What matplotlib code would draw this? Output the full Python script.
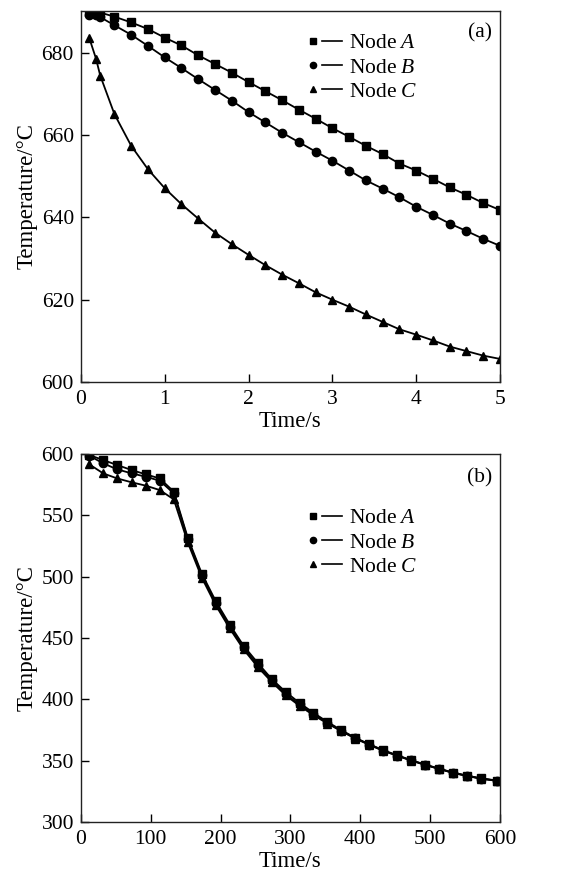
import matplotlib
matplotlib.use("Agg")
import matplotlib.pyplot as plt
from matplotlib.lines import Line2D
from matplotlib.legend_handler import HandlerTuple

plt.rcParams['font.family'] = ['Liberation Serif', 'DejaVu Serif']
plt.rcParams['mathtext.fontset'] = 'custom'
plt.rcParams['mathtext.rm'] = 'Liberation Serif'
plt.rcParams['mathtext.it'] = 'Liberation Serif:italic'

# ---------------- Panel (a) data ----------------
t_a = [0.1, 0.18, 0.23, 0.4, 0.6, 0.8, 1.0, 1.2, 1.4, 1.6, 1.8, 2.0, 2.2, 2.4, 2.6,
       2.8, 3.0, 3.2, 3.4, 3.6, 3.8, 4.0, 4.2, 4.4, 4.6, 4.8, 5.0]
a_nodeA = [689.9, 689.9, 689.8, 688.8, 687.4, 685.8, 683.7, 681.8, 679.4, 677.3, 675.2,
           672.9, 670.7, 668.5, 666.2, 664.0, 661.7, 659.6, 657.4, 655.4, 653.1, 651.4,
           649.4, 647.3, 645.5, 643.5, 641.8]
a_nodeB = [689.3, 689.1, 688.7, 686.7, 684.4, 681.7, 678.9, 676.3, 673.6, 671.0, 668.4,
           665.6, 663.1, 660.6, 658.3, 656.0, 653.8, 651.4, 649.0, 647.0, 644.9, 642.6,
           640.6, 638.5, 636.7, 634.8, 633.1]
a_nodeC = [683.6, 678.6, 674.5, 665.1, 657.4, 651.7, 647.1, 643.2, 639.7, 636.3, 633.5,
           630.9, 628.4, 626.1, 624.0, 621.8, 620.0, 618.3, 616.4, 614.6, 612.8, 611.5,
           610.1, 608.6, 607.5, 606.4, 605.6]

# ---------------- Panel (b) data ----------------
t_b = [12, 32, 52, 73, 93, 113, 133, 153, 173, 193, 213, 233, 253, 273, 293, 313,
       333, 353, 373, 393, 413, 433, 453, 473, 493, 513, 533, 553, 573, 596]
b_nodeA = [599.2, 595.1, 591.0, 586.9, 583.4, 580.1, 569.3, 531.7, 502.6, 480.1, 461.0,
           443.6, 429.8, 416.7, 406.1, 397.1, 389.0, 381.6, 374.8, 368.6, 363.4, 358.5,
           354.4, 350.4, 346.8, 343.5, 340.3, 337.8, 335.6, 333.8]
b_nodeB = [598.6, 592.4, 587.5, 584.2, 581.5, 578.2, 567.9, 530.6, 501.3, 478.2, 459.2,
           442.3, 427.9, 415.6, 404.2, 395.8, 387.9, 380.8, 374.3, 368.3, 363.1, 358.2,
           354.1, 350.2, 346.6, 343.3, 340.1, 337.6, 335.4, 333.6]
b_nodeC = [591.6, 584.2, 580.1, 576.9, 574.2, 570.6, 563.0, 527.9, 499.3, 476.8, 457.8,
           440.7, 426.5, 414.3, 403.4, 394.7, 387.1, 380.3, 374.0, 368.0, 362.9, 358.0,
           354.0, 350.1, 346.5, 343.2, 340.0, 337.5, 335.3, 333.5]

labels = ['Node $\\it{A}$', 'Node $\\it{B}$', 'Node $\\it{C}$']
markers = ['s', 'o', '^']

fig = plt.figure(figsize=(5.78, 8.74), dpi=100)
ax_a = fig.add_axes([0.140, 0.563, 0.725, 0.4245])
ax_b = fig.add_axes([0.140, 0.0595, 0.725, 0.421])

FS = 15.5
FS_LBL = 16.5


def style_axes(ax):
    ax.tick_params(direction='in', length=6, width=1.0, top=False, right=False,
                   labelsize=FS)
    ax.tick_params(axis='y', pad=5)
    ax.tick_params(axis='x', pad=5.5)
    for s in ax.spines.values():
        s.set_linewidth(1.0)
        s.set_color('#222222')


def make_legend(ax, x, y):
    handles = []
    for m in markers:
        mk = Line2D([], [], color='black', marker=m, markersize=4.5, linestyle='none')
        ln = Line2D([], [], color='black', linewidth=1.2)
        handles.append((mk, ln))
    ax.legend(handles, labels, handler_map={tuple: HandlerTuple(ndivide=2, pad=0.0)},
              loc='upper left', bbox_to_anchor=(x, y), frameon=False, fontsize=FS,
              handlelength=1.8, handletextpad=0.35, labelspacing=0.2, borderpad=0.0,
              borderaxespad=0.0)


# Panel (a)
for ys, m in zip([a_nodeA, a_nodeB, a_nodeC], markers):
    ax_a.plot(t_a, ys, color='black', marker=m, markersize=6, linewidth=1.3)
ax_a.set_xlim(0, 5)
ax_a.set_ylim(600, 690.2)
ax_a.set_xticks([0, 1, 2, 3, 4, 5])
ax_a.set_yticks([600, 620, 640, 660, 680])
ax_a.set_xlabel('Time/s', fontsize=FS_LBL, labelpad=1.5)
ax_a.set_ylabel('Temperature/°C', fontsize=FS_LBL, labelpad=3)
style_axes(ax_a)
make_legend(ax_a, 0.53, 0.94)
ax_a.text(0.952, 0.94, '(a)', transform=ax_a.transAxes, ha='center', va='center',
          fontsize=FS)

# Panel (b)
for ys, m in zip([b_nodeA, b_nodeB, b_nodeC], markers):
    ax_b.plot(t_b, ys, color='black', marker=m, markersize=6, linewidth=1.3)
ax_b.set_xlim(0, 600)
ax_b.set_ylim(300, 600)
ax_b.set_xticks([0, 100, 200, 300, 400, 500, 600])
ax_b.set_yticks([300, 350, 400, 450, 500, 550, 600])
ax_b.set_xlabel('Time/s', fontsize=FS_LBL, labelpad=1.5)
ax_b.set_ylabel('Temperature/°C', fontsize=FS_LBL, labelpad=3)
style_axes(ax_b)
make_legend(ax_b, 0.53, 0.853)
ax_b.text(0.952, 0.935, '(b)', transform=ax_b.transAxes, ha='center', va='center',
          fontsize=FS)

fig.savefig('out.png', dpi=100)
